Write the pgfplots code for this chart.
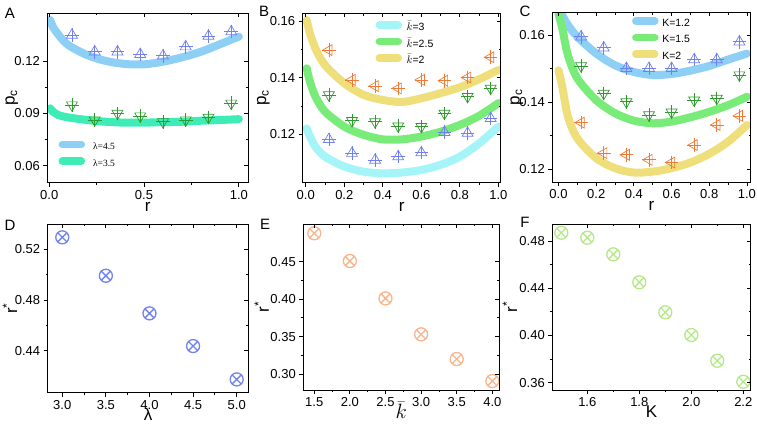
\documentclass[border=0pt]{standalone}
\usepackage{fontspec}
\setmainfont{Liberation Sans}
\newfontfamily\legserif{Liberation Serif}
\usepackage{pgfplots}
\pgfplotsset{compat=1.18}
\usetikzlibrary{plotmarks}

\definecolor{cblue}{HTML}{8DCFF5}
\definecolor{cmint}{HTML}{3DEDB5}
\definecolor{ccyan}{HTML}{A5F5F8}
\definecolor{cgreen}{HTML}{78EB78}
\definecolor{cyellow}{HTML}{EEDF7A}
\definecolor{mblue}{HTML}{7080F0}
\definecolor{mgreen}{HTML}{2E9A2E}
\definecolor{morange}{HTML}{F07A35}
\definecolor{dblue}{HTML}{7183F0}
\definecolor{dorange}{HTML}{F8B48C}
\definecolor{dgreen}{HTML}{B5E888}

\pgfplotsset{
  panel/.style={scale only axis, anchor=north west, clip=true,
    axis line style={line width=0.9pt},
    every tick/.style={black, line width=0.8pt},
    major tick length=4pt, minor tick length=2.2pt, minor tick num=1,
    ticklabel style={font=\fontsize{13}{13}\selectfont},
    /pgf/number format/assume math mode=true,
    label style={font=\fontsize{17}{17}\selectfont},
    xlabel style={at={(axis description cs:0.5,0)}, anchor=center},
    ylabel style={at={(axis description cs:0,0.5)}, anchor=center},
  },
  front/.style={tick align=outside, xtick pos=bottom, ytick pos=left},
  back/.style={tick align=inside, xtick pos=top, ytick pos=right,
    xticklabels={}, yticklabels={}},
  curve/.style={line width=8pt, line cap=round, smooth, no marks},
  legimg/.style={legend image code/.code={\draw[##1, line width=7.5pt, line cap=round] (0pt,3pt) -- (19pt,3pt);}},
  legbase/.style={draw=none, fill=none, inner sep=0pt, outer sep=0pt, anchor=west,
    row sep=5.2pt, nodes={inner sep=0pt, text height=7pt, text depth=2pt}},
  fx1/.style={xticklabel style={/pgf/number format/.cd, fixed, fixed zerofill, precision=1}},
  fy2/.style={yticklabel style={/pgf/number format/.cd, fixed, fixed zerofill, precision=2}},
  tri/.style 2 args={only marks, forget plot, mark=triangle, mark size=6.3pt,
    mark options={draw=#1, fill=none, line width=0.7pt, rotate=#2}},
  crs/.style={only marks, forget plot, mark=+, mark size=6.8pt,
    mark options={draw=#1, line width=0.7pt}},
  otm/.style={only marks, mark=otimes, mark size=6.5pt,
    mark options={draw=#1, fill=none, line width=1.3pt}},
  pA/.style={at={(47.3pt,-13pt)}, width=201pt, height=169.7pt,
    xmin=-0.01, xmax=1.05, ymin=0.0503, ymax=0.1475,
    xtick={0,0.5,1}, ytick={0.06,0.09,0.12}, fx1, fy2},
  pB/.style={at={(302.7pt,-13.3pt)}, width=198pt, height=169.4pt,
    xmin=-0.016, xmax=1.012, ymin=0.1029, ymax=0.1627,
    xtick={0,0.2,0.4,0.6,0.8,1}, ytick={0.12,0.14,0.16}, fx1, fy2},
  pC/.style={at={(552.3pt,-12.3pt)}, width=198.4pt, height=170pt,
    xmin=-0.033, xmax=1.02, ymin=0.1161, ymax=0.1668,
    xtick={0,0.2,0.4,0.6,0.8,1}, ytick={0.12,0.14,0.16}, fx1, fy2},
  pD/.style={at={(47.7pt,-224pt)}, width=200.6pt, height=168.7pt,
    xmin=2.833, xmax=5.133, ymin=0.4069, ymax=0.540,
    xtick={3,3.5,4,4.5,5}, ytick={0.44,0.48,0.52}, fx1, fy2},
  pE/.style={at={(303.3pt,-224pt)}, width=196pt, height=166pt,
    xmin=1.346, xmax=4.098, ymin=0.2786, ymax=0.5004,
    xtick={1.5,2,2.5,3,3.5,4}, ytick={0.30,0.35,0.40,0.45}, fx1, fy2},
  pF/.style={at={(552.3pt,-224pt)}, width=198.4pt, height=166pt,
    xmin=1.4654, xmax=2.2285, ymin=0.3538, ymax=0.4944,
    xtick={1.6,1.8,2.0,2.2}, ytick={0.36,0.40,0.44,0.48}, fx1, fy2},
}

\begin{document}
\begin{tikzpicture}
\path[use as bounding box] (0pt,0pt) rectangle (757pt,-424pt);

% ---------- A ----------
\begin{axis}[panel, front, pA,
  xlabel={r}, ylabel={p\textsubscript{c}},
  xlabel style={yshift=-24pt}, ylabel style={yshift=35.6pt},
  legimg,
  legend style={legbase, at={(axis description cs:0.056,0.166)},
    font=\legserif\fontsize{9.5}{9.5}\selectfont, column sep=8pt},
  legend cell align=left]
\addplot[curve, cblue] coordinates {(0.005,0.1435) (0.02,0.1395) (0.05,0.1349) (0.1,0.1292) (0.2,0.1234) (0.3,0.1200) (0.4,0.1183) (0.5,0.1181) (0.6,0.1196) (0.7,0.1221) (0.8,0.1253) (0.9,0.1296) (1.0,0.1340)};
\addplot[curve, cmint] coordinates {(0.005,0.0929) (0.02,0.0910) (0.05,0.0890) (0.1,0.0877) (0.2,0.0862) (0.3,0.0852) (0.4,0.0847) (0.5,0.0847) (0.6,0.0850) (0.7,0.0852) (0.8,0.0858) (0.9,0.0862) (1.0,0.0867)};
\legend{λ=4.5, λ=3.5}
\addplot[tri={mblue}{0}] coordinates {(0.12,0.1349) (0.24,0.1253) (0.36,0.1253) (0.48,0.1238) (0.6,0.1230) (0.72,0.1282) (0.84,0.1343) (0.96,0.1368)};
\addplot[crs=mblue] coordinates {(0.12,0.1349) (0.24,0.1253) (0.36,0.1253) (0.48,0.1238) (0.6,0.1230) (0.72,0.1282) (0.84,0.1343) (0.96,0.1368)};
\addplot[tri={mgreen}{180}] coordinates {(0.12,0.0948) (0.24,0.0862) (0.36,0.0900) (0.48,0.0885) (0.6,0.0852) (0.72,0.0862) (0.84,0.0877) (0.96,0.0958)};
\addplot[crs=mgreen] coordinates {(0.12,0.0948) (0.24,0.0862) (0.36,0.0900) (0.48,0.0885) (0.6,0.0852) (0.72,0.0862) (0.84,0.0877) (0.96,0.0958)};
\end{axis}
\begin{axis}[panel, back, pA]\end{axis}

% ---------- B ----------
\begin{axis}[panel, front, pB,
  xlabel={r}, ylabel={p\textsubscript{c}},
  xlabel style={yshift=-24pt}, ylabel style={yshift=39.4pt},
  legimg,
  legend style={legbase, at={(axis description cs:0.368,0.822)},
    font=\fontsize{10.5}{10.5}\selectfont, column sep=4.5pt},
  legend cell align=left]
\addplot[curve, ccyan] coordinates {(0.005,0.1221) (0.02,0.1195) (0.05,0.1156) (0.1,0.1121) (0.2,0.1086) (0.3,0.1068) (0.4,0.1062) (0.5,0.1065) (0.6,0.1074) (0.7,0.1092) (0.8,0.1121) (0.9,0.1168) (1.0,0.1227)};
\addplot[curve, cgreen] coordinates {(0.005,0.1433) (0.02,0.1390) (0.05,0.1333) (0.1,0.1280) (0.2,0.1227) (0.3,0.1198) (0.4,0.1182) (0.5,0.1182) (0.6,0.1192) (0.7,0.1209) (0.8,0.1233) (0.9,0.1265) (1.0,0.1310)};
\addplot[curve, cyellow] coordinates {(0.005,0.1603) (0.02,0.1560) (0.05,0.1503) (0.1,0.1444) (0.2,0.1380) (0.3,0.1339) (0.4,0.1321) (0.5,0.1314) (0.6,0.1327) (0.7,0.1345) (0.8,0.1366) (0.9,0.1394) (1.0,0.1427)};
\legend{$\bar{k}$=3, $\bar{k}$=2.5, $\bar{k}$=2}
\addplot[tri={morange}{90}] coordinates {(0.12,0.1497) (0.24,0.1392) (0.36,0.1370) (0.48,0.1362) (0.6,0.1392) (0.72,0.1389) (0.84,0.1400) (0.96,0.1472)};
\addplot[crs=morange] coordinates {(0.12,0.1497) (0.24,0.1392) (0.36,0.1370) (0.48,0.1362) (0.6,0.1392) (0.72,0.1389) (0.84,0.1400) (0.96,0.1472)};
\addplot[tri={mgreen}{180}] coordinates {(0.12,0.1339) (0.24,0.1248) (0.36,0.1244) (0.48,0.1229) (0.6,0.1227) (0.72,0.1274) (0.84,0.1333) (0.96,0.1362)};
\addplot[crs=mgreen] coordinates {(0.12,0.1339) (0.24,0.1248) (0.36,0.1244) (0.48,0.1229) (0.6,0.1227) (0.72,0.1274) (0.84,0.1333) (0.96,0.1362)};
\addplot[tri={mblue}{0}] coordinates {(0.12,0.1182) (0.24,0.1133) (0.36,0.1109) (0.48,0.1121) (0.6,0.1135) (0.72,0.1207) (0.84,0.1204) (0.96,0.1256)};
\addplot[crs=mblue] coordinates {(0.12,0.1182) (0.24,0.1133) (0.36,0.1109) (0.48,0.1121) (0.6,0.1135) (0.72,0.1207) (0.84,0.1204) (0.96,0.1256)};
\end{axis}
\begin{axis}[panel, back, pB]\end{axis}

% ---------- C ----------
\begin{axis}[panel, front, pC,
  xlabel={r}, ylabel={p\textsubscript{c}},
  xlabel style={yshift=-24pt}, ylabel style={yshift=35.6pt},
  legimg,
  legend style={legbase, at={(axis description cs:0.402,0.841)},
    font=\fontsize{10.5}{10.5}\selectfont, column sep=3.7pt},
  legend cell align=left]
\addplot[curve, cblue] coordinates {(0.02,0.1659) (0.05,0.1630) (0.1,0.1595) (0.2,0.1545) (0.3,0.1510) (0.4,0.1490) (0.5,0.1481) (0.6,0.1484) (0.7,0.1494) (0.8,0.1508) (0.9,0.1527) (1.0,0.1545)};
\addplot[curve, cgreen] coordinates {(0.0,0.1664) (0.02,0.1620) (0.05,0.1540) (0.1,0.1471) (0.2,0.1406) (0.3,0.1367) (0.4,0.1345) (0.5,0.1337) (0.6,0.1342) (0.7,0.1355) (0.8,0.1371) (0.9,0.1391) (1.0,0.1416)};
\addplot[curve, cyellow] coordinates {(0.0,0.1495) (0.02,0.1446) (0.05,0.1357) (0.1,0.1292) (0.2,0.1233) (0.3,0.1203) (0.4,0.1190) (0.5,0.1193) (0.6,0.1203) (0.7,0.1220) (0.8,0.1246) (0.9,0.1282) (1.0,0.1332)};
\legend{K=1.2, K=1.5, K=2}
\addplot[tri={mblue}{0}] coordinates {(0.12,0.1595) (0.24,0.1562) (0.36,0.1501) (0.48,0.1501) (0.6,0.1501) (0.72,0.1527) (0.84,0.1527) (0.96,0.1580)};
\addplot[crs=mblue] coordinates {(0.12,0.1595) (0.24,0.1562) (0.36,0.1501) (0.48,0.1501) (0.6,0.1501) (0.72,0.1527) (0.84,0.1527) (0.96,0.1580)};
\addplot[tri={mgreen}{180}] coordinates {(0.12,0.1508) (0.24,0.1426) (0.36,0.1401) (0.48,0.1362) (0.6,0.1370) (0.72,0.1406) (0.84,0.1411) (0.96,0.1481)};
\addplot[crs=mgreen] coordinates {(0.12,0.1508) (0.24,0.1426) (0.36,0.1401) (0.48,0.1362) (0.6,0.1370) (0.72,0.1406) (0.84,0.1411) (0.96,0.1481)};
\addplot[tri={morange}{90}] coordinates {(0.12,0.1339) (0.24,0.1248) (0.36,0.1243) (0.48,0.1228) (0.6,0.1220) (0.72,0.1272) (0.84,0.1332) (0.96,0.1359)};
\addplot[crs=morange] coordinates {(0.12,0.1339) (0.24,0.1248) (0.36,0.1243) (0.48,0.1228) (0.6,0.1220) (0.72,0.1272) (0.84,0.1332) (0.96,0.1359)};
\end{axis}
\begin{axis}[panel, back, pC]\end{axis}

% ---------- D ----------
\begin{axis}[panel, front, pD,
  xlabel={λ}, ylabel={r\textsuperscript{*}},
  xlabel style={yshift=-22pt}, ylabel style={yshift=37.7pt}]
\addplot[otm=dblue] coordinates {(3.0,0.5295) (3.5,0.4992) (4.0,0.4695) (4.5,0.4437) (5.0,0.4174)};
\end{axis}
\begin{axis}[panel, back, pD]\end{axis}

% ---------- E ----------
\begin{axis}[panel, front, pE,
  xlabel={$\bar{k}$}, ylabel={r\textsuperscript{*}},
  xlabel style={yshift=-20pt, font=\fontsize{20}{20}\selectfont}, ylabel style={yshift=41.6pt}]
\addplot[otm=dorange] coordinates {(1.5,0.488) (2.0,0.451) (2.5,0.401) (3.0,0.353) (3.5,0.320) (4.0,0.2906)};
\end{axis}
\begin{axis}[panel, back, pE]\end{axis}

% ---------- F ----------
\begin{axis}[panel, front, pF,
  xlabel={K}, ylabel={r\textsuperscript{*}},
  xlabel style={yshift=-21.7pt}, ylabel style={yshift=42.3pt}]
\addplot[otm=dgreen] coordinates {(1.5,0.487) (1.6,0.4828) (1.7,0.4687) (1.8,0.445) (1.9,0.4196) (2.0,0.4004) (2.1,0.3786) (2.2,0.3608)};
\end{axis}
\begin{axis}[panel, back, pF]\end{axis}

% panel letters
\begin{scope}[every node/.style={font=\fontsize{15}{15}\selectfont, anchor=center}]
\node at (10pt,-13pt) {A};
\node at (264pt,-11pt) {B};
\node at (525pt,-11pt) {C};
\node at (10pt,-225pt) {D};
\node at (265pt,-224pt) {E};
\node at (525pt,-222pt) {F};
\end{scope}
\end{tikzpicture}
\end{document}
